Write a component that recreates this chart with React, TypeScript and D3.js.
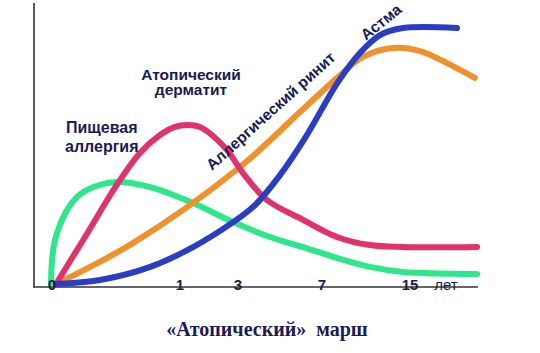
import React from "react";
import * as d3 from "d3";

type Pt = [number, number];

// age (years) and relative prevalence (0..100)
const foodAllergy: Pt[] = [
  [-0.04, 0.4], [-0.032, 8.6], [-0.008, 15.7], [0.032, 21.1], [0.089, 26.4],
  [0.17, 31.1], [0.25, 33.6], [0.355, 35.4], [0.49, 36.4], [0.76, 34.6],
  [1.45, 28.9], [2.83, 22.1], [4.52, 16.8], [6.1, 13.2], [8.36, 9.3],
  [11.36, 6.1], [14.36, 4.3], [21.1, 3.6],
];
const dermatitis: Pt[] = [
  [0, 0], [0.234, 16.8], [0.49, 35.4], [0.677, 46.8], [0.839, 53.2],
  [0.96, 56.1], [1.24, 56.8], [1.69, 56.1], [2.1, 53.2], [2.62, 47.9],
  [3.24, 39.6], [4.38, 30], [6.1, 22.9], [8.36, 16.8], [11.36, 13.9],
  [14.36, 13.2], [21.1, 13.2],
];
const rhinitis: Pt[] = [
  [0, 0], [0.62, 14.6], [3.095, 41.8], [5.95, 61.4], [8.36, 73.6],
  [10.73, 81.1], [13.45, 84.3], [15.91, 83.2], [18.36, 78.9], [20.9, 73.6],
];
const asthma: Pt[] = [
  [0, 0], [0.355, 1.4], [0.76, 6.1], [1.45, 13.2], [2.83, 22.1],
  [3.81, 28.2], [5.0, 38.9], [6.19, 52.1], [8.45, 72.1], [10.45, 82.5],
  [12.27, 88.9], [14.36, 91.4], [19.27, 91.4],
];

const ageTicks = [0, 1, 3, 7, 15];
const ageBreaks = [0, 1, 3, 7, 15, 22];

const navy = "#1a1a55";

const series = [
  { data: foodAllergy, color: "#2ee68c" },
  { data: rhinitis, color: "#f0922c" },
  { data: dermatitis, color: "#e0336b" },
  { data: asthma, color: "#2b3dc2" },
];

export default function App() {
  const width = 540;
  const height = 353;

  // compressed age axis: each tick gets its own stretch
  const x = d3.scaleLinear().domain(ageBreaks).range([56, 180, 238, 322, 410, 487]);
  const y = d3.scaleLinear().domain([0, 100]).range([284, 4]);

  const line = d3
    .line<Pt>()
    .x((d) => x(d[0]))
    .y((d) => y(d[1]))
    .curve(d3.curveCatmullRom.alpha(0.5));

  const labelFont = "'Liberation Sans', Arial, sans-serif";

  return (
    <svg
      width={width}
      height={height}
      style={{ position: "absolute", left: 0, top: 0, background: "#fff" }}
      fontFamily={labelFont}
    >
      {/* axes */}
      <line x1={34} x2={34} y1={3} y2={287} stroke="#333" strokeWidth={1.6} />
      <line x1={33} x2={478} y1={287} y2={287} stroke="#333" strokeWidth={1.6} />

      {series.map((s, i) => (
        <path
          key={i}
          d={line(s.data) ?? ""}
          fill="none"
          stroke={s.color}
          strokeWidth={6}
          strokeLinecap="round"
          strokeLinejoin="round"
        />
      ))}

      {ageTicks.map((t) => (
        <text
          key={t}
          x={x(t) + (t === 0 ? -4 : 0)}
          y={290}
          textAnchor="middle"
          fontSize={15}
          fontWeight="bold"
          fill={navy}
        >
          {t}
        </text>
      ))}
      <text x={446} y={290} textAnchor="middle" fontSize={15} fill={navy}>
        лет
      </text>

      <g fontSize={16} fontWeight="bold" fill={navy}>
        <text x={66} y={133}>Пищевая</text>
        <text x={65} y={152}>аллергия</text>
      </g>
      <g fontSize={15.5} fontWeight="bold" fill={navy}>
        <text x={191} y={80} textAnchor="middle">Атопический</text>
        <text x={191} y={95} textAnchor="middle">дерматит</text>
        <text transform="translate(212,171) rotate(-42)">Аллергический ринит</text>
        <text transform="translate(366,41) rotate(-39)">Астма</text>
      </g>

      <text
        x={267}
        y={336}
        textAnchor="middle"
        fontFamily="'Liberation Serif', 'Times New Roman', serif"
        fontWeight="bold"
        fontSize={20}
        fill={navy}
        style={{ whiteSpace: "pre" }}
      >
        {"«Атопический»  марш"}
      </text>
    </svg>
  );
}
